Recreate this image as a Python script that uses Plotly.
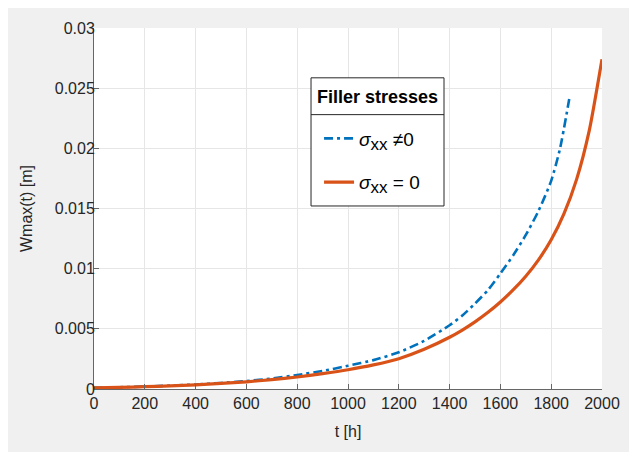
import plotly.graph_objects as go

# sigma_xx != 0 (blue, dash-dot)
t_blue = [0, 100, 200, 300, 400, 500, 600, 700, 800, 900, 1000, 1100, 1200, 1300,
          1400, 1450, 1500, 1550, 1600, 1650, 1700, 1750, 1800, 1835, 1871]
w_blue = [0.00010, 0.00015, 0.00020, 0.00028, 0.00038, 0.00050, 0.00066, 0.00087,
          0.00116, 0.00150, 0.00193, 0.00240, 0.00305, 0.00400, 0.00530, 0.00610,
          0.00710, 0.00820, 0.00960, 0.01110, 0.01280, 0.01480, 0.01730, 0.02000,
          0.02410]

# sigma_xx = 0 (orange, solid)
t_orange = [0, 100, 200, 300, 400, 500, 600, 700, 800, 900, 1000, 1100, 1200, 1300,
            1400, 1450, 1500, 1550, 1600, 1650, 1700, 1750, 1800, 1850, 1900, 1950,
            2000]
w_orange = [0.00010, 0.00014, 0.00019, 0.00026, 0.00035, 0.00046, 0.00060, 0.00078,
            0.00100, 0.00128, 0.00160, 0.00200, 0.00252, 0.00330, 0.00430, 0.00490,
            0.00558, 0.00635, 0.00723, 0.00823, 0.00937, 0.01073, 0.01240, 0.01455,
            0.01742, 0.02149, 0.02740]

x_ticks = [0, 200, 400, 600, 800, 1000, 1200, 1400, 1600, 1800, 2000]
y_ticks = [0, 0.005, 0.01, 0.015, 0.02, 0.025, 0.03]
y_tick_labels = ["0", "0.005", "0.01", "0.015", "0.02", "0.025", "0.03"]

name_blue = "<i>σ</i><sub><span style='font-size:17px'>xx</span></sub> ≠0"
name_orange = "<i>σ</i><sub><span style='font-size:17px'>xx</span></sub> = 0"
legend_title = "<b>Filler stresses</b>"

FONT = "Liberation Sans, Arial, sans-serif"
TXT = "#262626"
AX = "#666666"

# legend box geometry (paper fractions of the plot area)
BOX_X0, BOX_X1 = 0.4272, 0.689
BOX_Y0, BOX_Y1 = 0.507, 0.862
SEP_Y = 0.760

fig = go.Figure()
fig.add_trace(go.Scatter(
    x=t_blue, y=w_blue, mode="lines", name=name_blue, legendgroup="a",
    line=dict(color="#0072BD", width=2.6, dash="9px,4px,3px,4px",
              shape="spline", smoothing=0.6),
))
fig.add_trace(go.Scatter(
    x=t_orange, y=w_orange, mode="lines", name=name_orange, legendgroup="b",
    line=dict(color="#D95319", width=3.2, shape="spline", smoothing=0.6),
))

# legend frame, drawn above the data
fig.add_shape(type="rect", xref="paper", yref="paper", layer="above",
              x0=BOX_X0, x1=BOX_X1, y0=BOX_Y0, y1=BOX_Y1,
              fillcolor="#ffffff", line=dict(color="#262626", width=1))
fig.add_shape(type="line", xref="paper", yref="paper", layer="above",
              x0=BOX_X0, x1=BOX_X1, y0=SEP_Y, y1=SEP_Y,
              line=dict(color="#262626", width=1))
fig.add_annotation(xref="paper", yref="paper", x=(BOX_X0 + BOX_X1) / 2, y=0.809,
                   text=legend_title, showarrow=False, xanchor="center",
                   yanchor="middle", font=dict(size=18, color="#000000"))

fig.update_layout(
    width=629, height=444,
    margin=dict(l=86, r=35, t=18, b=63),
    paper_bgcolor="#f0f0f0",
    plot_bgcolor="#ffffff",
    font=dict(family=FONT, size=16, color=TXT),
    showlegend=True,
    legend=dict(
        x=0.443, y=0.7466, xanchor="left", yanchor="top",
        bgcolor="rgba(0,0,0,0)", borderwidth=0,
        font=dict(size=19, color="#000000"),
        traceorder="grouped", tracegroupgap=16,
        itemwidth=30,
    ),
    xaxis=dict(
        range=[0, 2000], tickvals=x_ticks, ticks="inside", ticklen=5,
        tickcolor=AX, showline=True, linecolor=AX, linewidth=1,
        showgrid=True, gridcolor="#e6e6e6", gridwidth=1, zeroline=False,
        title=dict(text="t [h]", standoff=14, font=dict(size=16)),
        tickfont=dict(size=16),
    ),
    yaxis=dict(
        range=[0, 0.03], tickvals=y_ticks, ticktext=y_tick_labels, ticks="inside",
        ticklen=5, tickcolor=AX, showline=True, linecolor=AX,
        linewidth=1, showgrid=True, gridcolor="#e6e6e6", gridwidth=1,
        zeroline=False, title=dict(text="Wmax(t) [m]", standoff=18, font=dict(size=16)),
        tickfont=dict(size=16), ticklabelstandoff=-5,
    ),
)

fig.write_html("out.html")
